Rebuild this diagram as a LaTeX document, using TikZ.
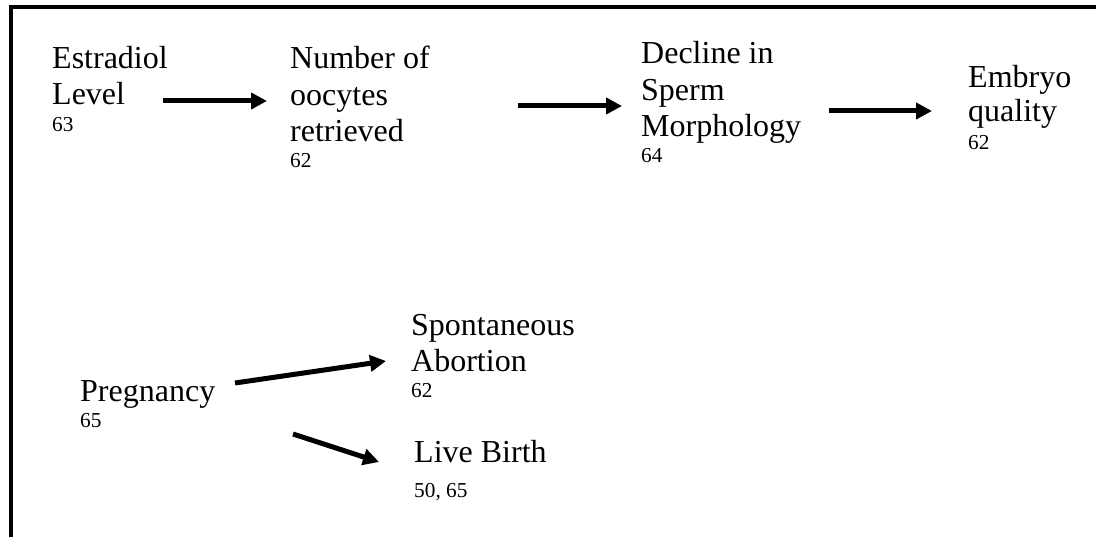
\documentclass[tikz,border=0pt]{standalone}
\usepackage{fontspec}
\setmainfont{Liberation Serif}
\usetikzlibrary{arrows.meta,positioning}

\begin{document}
\begin{tikzpicture}[x=1pt,y=-1pt,>={Triangle[length=16pt,width=16pt]},
factor/.style={anchor=base west, align=left, inner sep=0pt, font=\fontsize{32}{36.8}\selectfont},
refno/.style={anchor=base west, inner sep=0pt, font=\fontsize{21.3}{24}\selectfont},
link/.style={->, line width=5pt}]
\useasboundingbox (0,0) rectangle (1096,537);
% frame
\draw [line width=4pt] (1096,7) -- (11,7) -- (11,537);
% top row
\node [factor] (estr) at (52,105) {Estradiol\\Level};
\node [refno] (estr_r) at (52,132) {63};
\node [factor] (oocy) at (290,142) {Number of\\oocytes\\retrieved};
\node [refno] (oocy_r) at (290,168) {62};
\node [factor] (sperm) at (641,137) {Decline in\\Sperm\\Morphology};
\node [refno] (sperm_r) at (641,163) {64};
\node [factor, font=\fontsize{32}{34}\selectfont] (embr) at (968,122) {Embryo\\quality};
\node [refno] (embr_r) at (968,150) {62};
% bottom
\node [factor] (preg) at (80,402) {Pregnancy};
\node [refno] (preg_r) at (80,428) {65};
\node [factor] (abort) at (411,372) {Spontaneous\\Abortion};
\node [refno] (abort_r) at (411,398) {62};
\node [factor] (live) at (414,462) {Live Birth};
\node [refno] (live_r) at (414,497) {50, 65};
% arrows
\coordinate (e_o1) at (163,101); \coordinate (e_o2) at (267,101);
\coordinate (o_s1) at (518,106); \coordinate (o_s2) at (622,106);
\coordinate (s_e1) at (829,111); \coordinate (s_e2) at (932,111);
\coordinate (p_a1) at (235,383); \coordinate (p_a2) at (386,361);
\coordinate (p_l1) at (293,434); \coordinate (p_l2) at (379,462);
\draw [link] (e_o1)--(e_o2);
\draw [link] (o_s1)--(o_s2);
\draw [link] (s_e1)--(s_e2);
\draw [link] (p_a1)--(p_a2);
\draw [link] (p_l1)--(p_l2);
\end{tikzpicture}
\end{document}
